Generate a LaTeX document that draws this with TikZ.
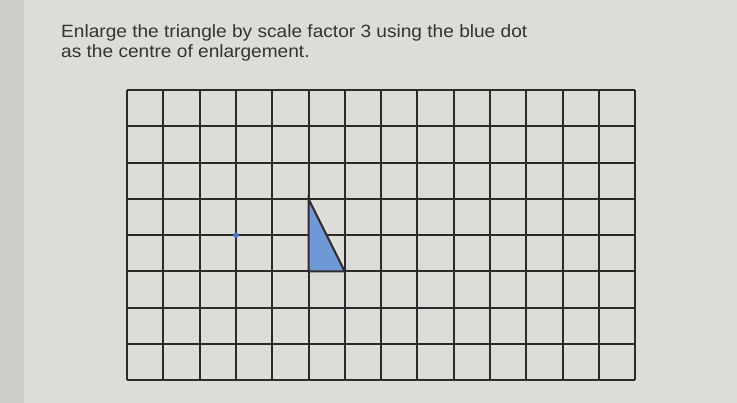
\documentclass[tikz,border=0pt]{standalone}
\usepackage{fontspec}
\setmainfont{Liberation Sans}
\newfontfamily\qfont[FakeStretch=1.073]{Liberation Sans}
\definecolor{bgc}{HTML}{DEDCD8}
\definecolor{stripc}{HTML}{CFCDC9}
\definecolor{gridc}{HTML}{2B2B2B}
\definecolor{trifill}{HTML}{6E98D6}
\definecolor{dotc}{HTML}{4A78C8}
\definecolor{textc}{HTML}{333333}
\tikzset{
  gridline/.style={draw=gridc, line width=2pt},
  trishape/.style={fill=trifill, draw=gridc, line width=2pt, line join=miter},
  question/.style={anchor=base west, inner sep=0pt, font=\qfont\fontsize{17.8}{20}\selectfont, align=left, text=textc}
}
\begin{document}
\begin{tikzpicture}[x=1pt,y=-1pt]
  \fill[bgc] (0,0) rectangle (737,403);
  \fill[stripc] (0,0) rectangle (24,403);
  \useasboundingbox (0,0) rectangle (737,403);
  \node[question] (q) at (61,57.7) {Enlarge the triangle by scale factor 3 using the blue dot\\as the centre of enlargement.};
  % grid: 14 x 8 cells
  \def\gx{127}\def\gy{90}\def\cs{36.3}
  \foreach \i in {0,...,14} {
    \draw[gridline] ({\gx+\i*\cs},\gy) -- ({\gx+\i*\cs},{\gy+8*\cs});
  }
  \foreach \j in {0,...,8} {
    \draw[gridline] (\gx,{\gy+\j*\cs}) -- ({\gx+14*\cs},{\gy+\j*\cs});
  }
  \coordinate (A) at ({\gx+5*\cs},{\gy+3*\cs});
  \coordinate (B) at ({\gx+5*\cs},{\gy+5*\cs});
  \coordinate (C) at ({\gx+6*\cs},{\gy+5*\cs});
  \draw[trishape] (A) -- (B) -- (C) -- cycle;
  \coordinate (O) at ({\gx+3*\cs},{\gy+4*\cs});
  \fill[dotc] (O) circle (2.8);
\end{tikzpicture}
\end{document}
